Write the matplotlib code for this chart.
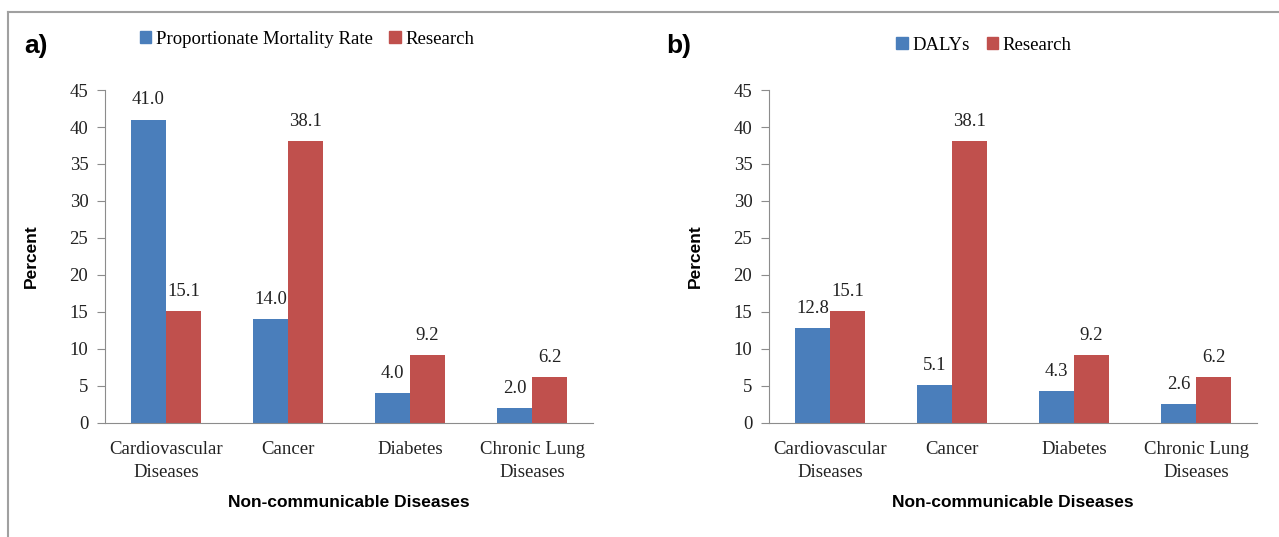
import matplotlib.pyplot as plt
import numpy as np
from matplotlib.patches import Patch
from matplotlib.lines import Line2D

plt.rcParams['font.family'] = ['Liberation Serif', 'DejaVu Serif']
BOLD_FONT = ['Liberation Sans', 'DejaVu Sans']

categories = ['Cardiovascular\nDiseases', 'Cancer', 'Diabetes', 'Chronic Lung\nDiseases']
mortality = [41.0, 14.0, 4.0, 2.0]
dalys = [12.8, 5.1, 4.3, 2.6]
research = [15.1, 38.1, 9.2, 6.2]
yticks = [0, 5, 10, 15, 20, 25, 30, 35, 40, 45]

BLUE = '#4A7EBB'
RED = '#C0504D'
GREY = '#8C8C8C'
TXT = '#222222'

fig = plt.figure(figsize=(12.79, 5.37), dpi=100)

# outer frame (top and left edges visible)
fig.add_artist(Line2D([8/1279, 1.0], [1 - 12/537, 1 - 12/537], color='#A0A0A0', lw=1.5))
fig.add_artist(Line2D([8/1279, 8/1279], [0, 1 - 12/537], color='#A0A0A0', lw=1.5))


def panel(left, first, first_name, tag, tag_x, leg_x, leg_y):
    ax = fig.add_axes([left, 0.2123, 0.3816, 0.6201])
    x = np.arange(len(categories))
    w = 0.287
    b1 = ax.bar(x - w/2, first, w, color=BLUE, label=first_name)
    b2 = ax.bar(x + w/2, research, w, color=RED, label='Research')
    for bars, vals in ((b1, first), (b2, research)):
        for r, v in zip(bars, vals):
            ax.annotate(f'{v:.1f}', (r.get_x() + r.get_width()/2, v),
                        xytext=(0, 8), textcoords='offset points',
                        ha='center', va='bottom', fontsize=13.5, color=TXT)
    ax.set_xlim(-0.5, 3.5)
    ax.set_ylim(0, 45)
    ax.set_yticks(yticks)
    ax.set_xticks(x)
    ax.set_xticklabels(categories, fontsize=13.5, color=TXT, linespacing=1.45)
    ax.tick_params(axis='x', length=0, pad=13)
    ax.tick_params(axis='y', labelsize=13.5, labelcolor=TXT, color=GREY, length=6, pad=6)
    for s in ('top', 'right'):
        ax.spines[s].set_visible(False)
    for s in ('left', 'bottom'):
        ax.spines[s].set_color(GREY)
    ax.set_ylabel('Percent', fontsize=12.5, fontweight='bold', family=BOLD_FONT, labelpad=22)
    ax.set_xlabel('Non-communicable Diseases', fontsize=12.5, fontweight='bold',
                  family=BOLD_FONT, labelpad=10)
    fig.text(tag_x, 1 - 46/537, tag, fontsize=19, fontweight='bold', family=BOLD_FONT,
             va='center', ha='left')
    handles = [Patch(color=BLUE, label=first_name), Patch(color=RED, label='Research')]
    fig.legend(handles=handles, loc='center', bbox_to_anchor=(leg_x, leg_y), ncol=2,
               frameon=False, prop={'size': 13.5}, handlelength=0.6, handleheight=0.6,
               handletextpad=0.25, columnspacing=0.9)
    return ax


panel(105/1279, mortality, 'Proportionate Mortality Rate', 'a)', 24/1279, 307/1279, 1 - 39/537)
panel(769/1279, dalys, 'DALYs', 'b)', 666/1279, 984/1279, 1 - 45/537)

fig.savefig('out.png', dpi=100)
